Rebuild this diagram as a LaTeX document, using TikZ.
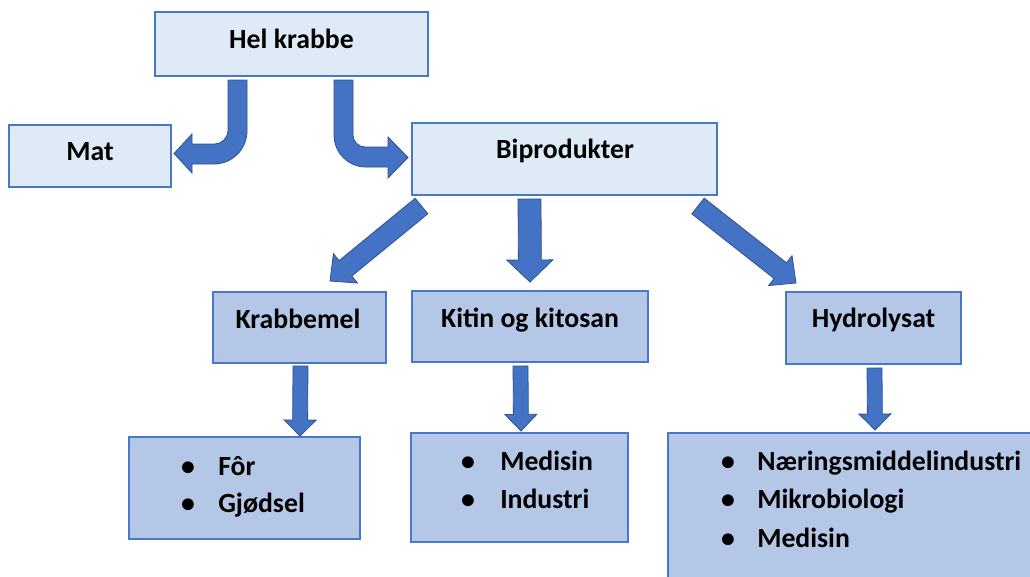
\documentclass[tikz,border=0pt]{standalone}
\usepackage{fontspec}
\setmainfont{Carlito}
\usetikzlibrary{calc}

\definecolor{boxlight}{HTML}{DEEBF7}
\definecolor{boxmid}{HTML}{B4C7E7}
\definecolor{edgeblue}{HTML}{4A78C8}
\definecolor{arrowfill}{HTML}{4472C4}
\definecolor{arrowedge}{HTML}{2F528F}

% straight block arrow: tail, tip, shaft half width, head half width, head length
\newcommand\blockarrow[5]{%
  \coordinate (ba-h) at ($(#2)!#5!(#1)$);
  \draw[blockarrow] ($(#1)!#3!90:(#2)$) -- ($(ba-h)!#3!90:(#2)$)
    -- ($(ba-h)!#4!90:(#2)$) -- (#2) -- ($(ba-h)!#4!-90:(#2)$)
    -- ($(ba-h)!#3!-90:(#2)$) -- ($(#1)!#3!-90:(#2)$) -- cycle;
}

\begin{document}
\begin{tikzpicture}[x=0.75pt,y=-0.75pt,
  every node/.style={font=\fontsize{20.8}{25}\selectfont\bfseries},
  topbox/.style={draw=edgeblue,line width=1.5pt,fill=boxlight,inner sep=0pt},
  subbox/.style={draw=edgeblue,line width=1.5pt,fill=boxmid,inner sep=0pt},
  label text/.style={anchor=base,inner sep=0pt},
  item text/.style={anchor=base west,inner sep=0pt},
  bullet/.style={anchor=base,inner sep=0pt},
  blockarrow/.style={fill=arrowfill,draw=arrowedge,line width=0.6pt,line join=miter}]

\clip (0,0) rectangle (1030,576);

% boxes
\node[topbox,minimum width=204.75pt,minimum height=48pt] (hel) at (291.5,44) {};
\node[topbox,minimum width=121.5pt,minimum height=46.5pt] (mat) at (90,156) {};
\node[topbox,minimum width=228.75pt,minimum height=54pt] (bip) at (564.5,159) {};
\node[subbox,minimum width=129.75pt,minimum height=53.25pt] (krab) at (299.5,327.5) {};
\node[subbox,minimum width=177pt,minimum height=53.25pt] (kit) at (530,326.5) {};
\node[subbox,minimum width=131.25pt,minimum height=54pt] (hyd) at (873.5,328) {};
\node[subbox,minimum width=173.25pt,minimum height=76.5pt] (l1) at (244.5,488) {};
\node[subbox,minimum width=162.75pt,minimum height=81.75pt] (l2) at (519.5,487.5) {};
\node[subbox,minimum width=282.75pt,minimum height=117.75pt] (l3) at (856.5,511.5) {};

% box titles
\node[label text] (hel-t) at (291.5,48) {Hel krabbe};
\node[label text] (mat-t) at (90,160) {Mat};
\node[label text] (bip-t) at (565,158) {Biprodukter};
\node[label text] (krab-t) at (298,328) {Krabbemel};
\node[label text] (kit-t) at (530,327) {Kitin og kitosan};
\node[label text] (hyd-t) at (873.5,327) {Hydrolysat};

% bullet lists
\node[bullet] (l1-b1) at (188,475) {•};
\node[item text] (l1-i1) at (218,475) {Fôr};
\node[bullet] (l1-b2) at (188,512) {•};
\node[item text] (l1-i2) at (218,512) {Gjødsel};

\node[bullet] (l2-b1) at (468,470) {•};
\node[item text] (l2-i1) at (500,470) {Medisin};
\node[bullet] (l2-b2) at (468,508) {•};
\node[item text] (l2-i2) at (500,508) {Industri};

\node[bullet] (l3-b1) at (728,470) {•};
\node[item text] (l3-i1) at (757,470) {Næringsmiddelindustri};
\node[bullet] (l3-b2) at (728,508) {•};
\node[item text] (l3-i2) at (757,508) {Mikrobiologi};
\node[bullet] (l3-b3) at (728,547) {•};
\node[item text] (l3-i3) at (757,547) {Medisin};

% bent arrow: Hel krabbe -> Mat
\coordinate (t1) at ($(hel.south west)+(74,3)$);
\begin{scope}[shift={(t1)}]
\draw[blockarrow] (0,0) -- (19,0) -- (19,51)
  .. controls (19,69.2) and (4.2,84) .. (-14,84) -- (-36,84) -- (-36,93)
  -- (-54,73.5) -- (-36,54) -- (-36,64) -- (-13,64)
  .. controls (-5.8,64) and (0,56.8) .. (0,51) -- cycle;
\end{scope}

% bent arrow: Hel krabbe -> Biprodukter
\coordinate (t2) at ($(hel.south west)+(180,3)$);
\begin{scope}[shift={(t2)}]
\draw[blockarrow] (0,0) -- (19,0) -- (19,55)
  .. controls (19,61.6) and (24.4,67) .. (31,67) -- (54,67) -- (54,57)
  -- (74,77.5) -- (54,98) -- (54,87) -- (32,87)
  .. controls (14.3,87) and (0,72.7) .. (0,55) -- cycle;
\end{scope}

% Biprodukter -> products
\coordinate (a1s) at ($(bip.south west)+(10.5,10)$);
\coordinate (a1e) at ($(krab.north west)+(118,-10)$);
\blockarrow{a1s}{a1e}{7.5pt}{14.25pt}{15pt}

\coordinate (a2s) at ($(bip.south)+(-35,3)$);
\coordinate (a2e) at ($(kit.north)+(0,-8)$);
\blockarrow{a2s}{a2e}{8.6pt}{17.25pt}{16.5pt}

\coordinate (a3s) at ($(bip.south east)+(-20,10)$);
\coordinate (a3e) at ($(hyd.north west)+(11,-8)$);
\blockarrow{a3s}{a3e}{7.5pt}{14.25pt}{15pt}

% products -> uses
\coordinate (b1s) at ($(krab.south)+(1,2)$);
\coordinate (b1e) at ($(l1.north)+(55.5,0)$);
\blockarrow{b1s}{b1e}{5.6pt}{12pt}{12pt}

\coordinate (b2s) at ($(kit.south)+(-9.5,3)$);
\coordinate (b2e) at ($(l2.north)+(1.5,-1)$);
\blockarrow{b2s}{b2e}{5.6pt}{12pt}{12.5pt}

\coordinate (b3s) at ($(hyd.south)+(1,3)$);
\coordinate (b3e) at ($(l3.north)+(18.5,-2)$);
\blockarrow{b3s}{b3e}{5.6pt}{12pt}{12pt}

\end{tikzpicture}
\end{document}
